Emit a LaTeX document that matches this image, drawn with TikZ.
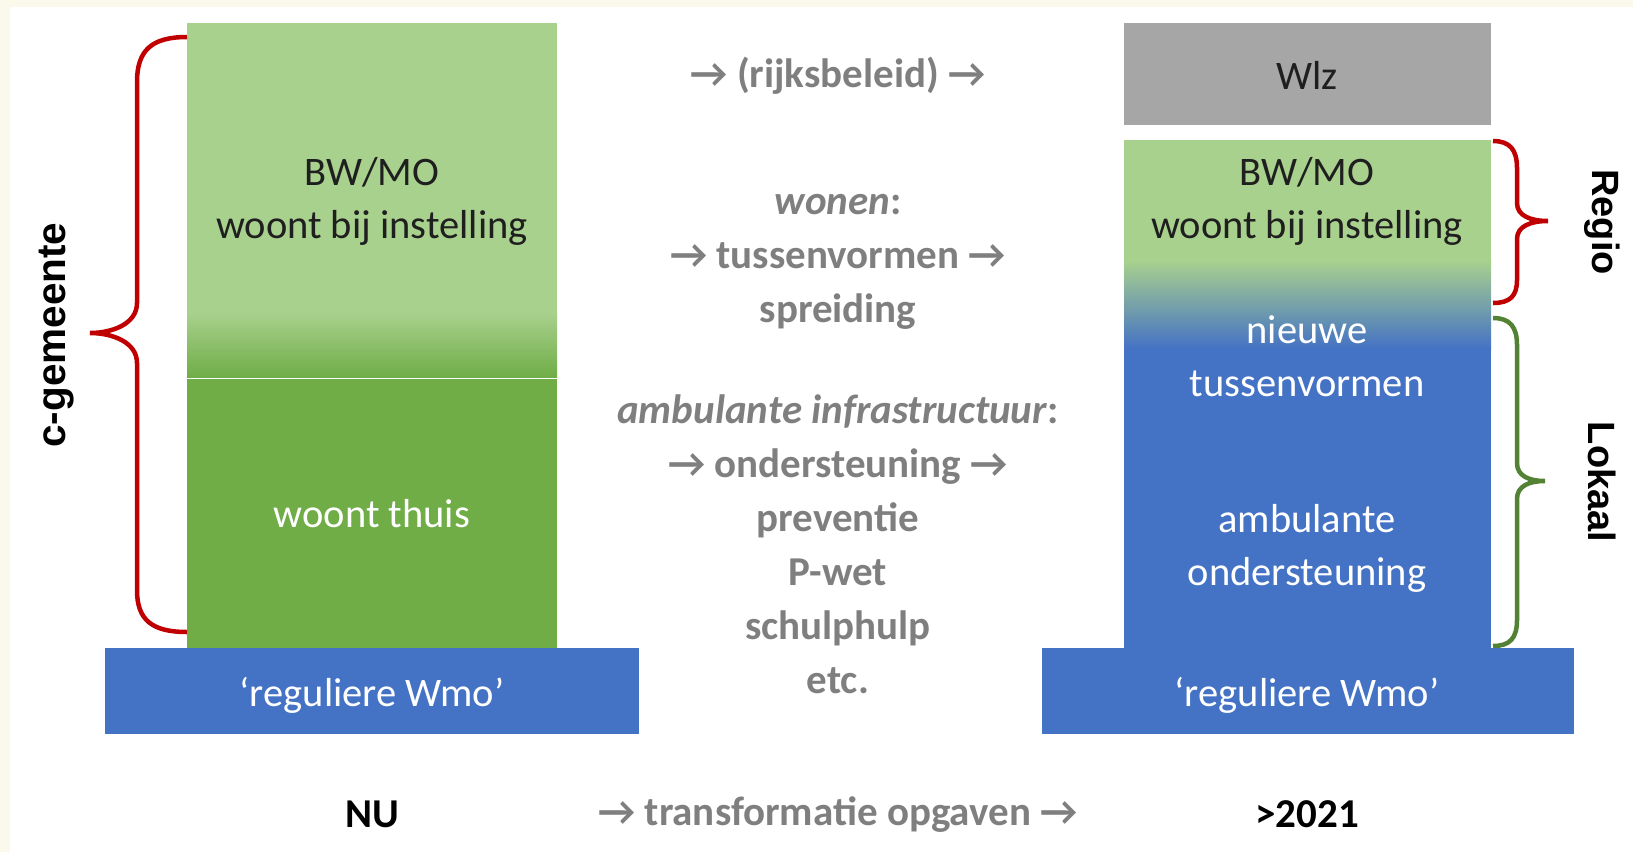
\documentclass[tikz,border=0pt]{standalone}
\usepackage{fontspec}
\setmainfont{Carlito}
\newfontfamily\arialfont{Liberation Sans}
\definecolor{creme}{HTML}{FBF8EC}
\definecolor{lichtgroen}{HTML}{A9D18E}
\definecolor{donkergroen}{HTML}{70AD47}
\definecolor{wmoblauw}{HTML}{4472C4}
\definecolor{wlzgrijs}{HTML}{A6A6A6}
\definecolor{tekstgrijs}{HTML}{7F7F7F}
\definecolor{accoladerood}{HTML}{C00000}
\definecolor{accoladegroen}{HTML}{548235}
\tikzset{
  vak/.style={inner sep=0pt, align=center, text=black!88,
    font=\fontsize{40.5}{53}\selectfont},
  grijs/.style={inner sep=0pt, align=center, text=tekstgrijs,
    font=\bfseries\fontsize{41}{54}\selectfont},
  kop/.style={inner sep=0pt, font=\bfseries\fontsize{41}{50}\selectfont},
  zij/.style={inner sep=0pt, font=\arialfont\bfseries\fontsize{38}{44}\selectfont},
  accolade/.style={line width=4.5pt}
}
\begin{document}
\begin{tikzpicture}[x=1pt,y=-1pt]
  \useasboundingbox (0,0) rectangle (1633,852);
  \fill[creme] (0,0) rectangle (1633,852);
  \fill[white] (10,7) rectangle (1633,852);

  % NU
  \fill[lichtgroen] (187,23) rectangle (557,313);
  \shade[top color=lichtgroen, bottom color=donkergroen] (187,312) rectangle (557,377);
  \fill[donkergroen] (187,379) rectangle (557,648);
  \fill[wmoblauw] (105,648) rectangle (639,734);
  \node[vak] (bwlinks) at (372,201) {BW/MO\\woont bij instelling};
  \node[vak, text=white] (thuis) at (372,514) {woont thuis};
  \node[vak, text=white] (wmolinks) at (372,695) {‘reguliere Wmo’};

  % >2021
  \fill[wlzgrijs] (1124,23) rectangle (1491,125);
  \fill[lichtgroen] (1124,140) rectangle (1491,261);
  \shade[top color=lichtgroen, bottom color=wmoblauw] (1124,260) rectangle (1491,349);
  \fill[wmoblauw] (1124,348) rectangle (1491,648);
  \fill[wmoblauw] (1042,648) rectangle (1574,734);
  \node[vak] (wlz) at (1307,75) {Wlz};
  \node[vak] (bwrechts) at (1307,201) {BW/MO\\woont bij instelling};
  \node[vak, text=white] (nieuw) at (1307,356) {nieuwe\\tussenvormen};
  \node[vak, text=white] (ambulant) at (1307,548) {ambulante\\ondersteuning};
  \node[vak, text=white] (wmorechts) at (1307,695) {‘reguliere Wmo’};

  % midden
  \node[grijs] (rijk) at (838,76) {→ (rijksbeleid) →};
  \node[grijs] (wonen) at (838,262) {\textit{wonen}:\\→ tussenvormen →\\spreiding};
  \node[grijs] (infra) at (838,544) {\textit{ambulante infrastructuur}:\\→ ondersteuning →\\preventie\\P-wet\\schulphulp\\etc.};
  \node[grijs] (transformatie) at (838,815) {→ transformatie opgaven →};
  \node[kop] (nu) at (372,814) {NU};
  \node[kop] (straks) at (1307,814) {>2021};

  % accolades
  \draw[accolade, accoladerood] (187,37) .. controls (152,37) and (137,50) .. (137,82)
    -- (137,303) .. controls (137,324) and (112,333) .. (90,333)
    .. controls (112,333) and (137,342) .. (137,363)
    -- (137,590) .. controls (137,620) and (152,632) .. (187,632);
  \draw[accolade, accoladerood] (1493,141) .. controls (1510,141) and (1517,150) .. (1517,168)
    -- (1517,203) .. controls (1517,216) and (1531,221) .. (1548,221)
    .. controls (1531,221) and (1517,226) .. (1517,239)
    -- (1517,280) .. controls (1517,296) and (1510,303) .. (1493,303);
  \draw[accolade, accoladegroen] (1493,318) .. controls (1510,318) and (1517,327) .. (1517,345)
    -- (1517,463) .. controls (1517,476) and (1529,481) .. (1545,481)
    .. controls (1529,481) and (1517,486) .. (1517,499)
    -- (1517,620) .. controls (1517,638) and (1510,646) .. (1493,646);
  \node[zij, rotate=90, font=\arialfont\bfseries\fontsize{40.5}{48}\selectfont] (gemeente) at (57,335) {c-gemeente};
  \node[zij, rotate=-90] (regio) at (1602,222) {Regio};
  \node[zij, rotate=-90] (lokaal) at (1602,482) {Lokaal};
\end{tikzpicture}
\end{document}
